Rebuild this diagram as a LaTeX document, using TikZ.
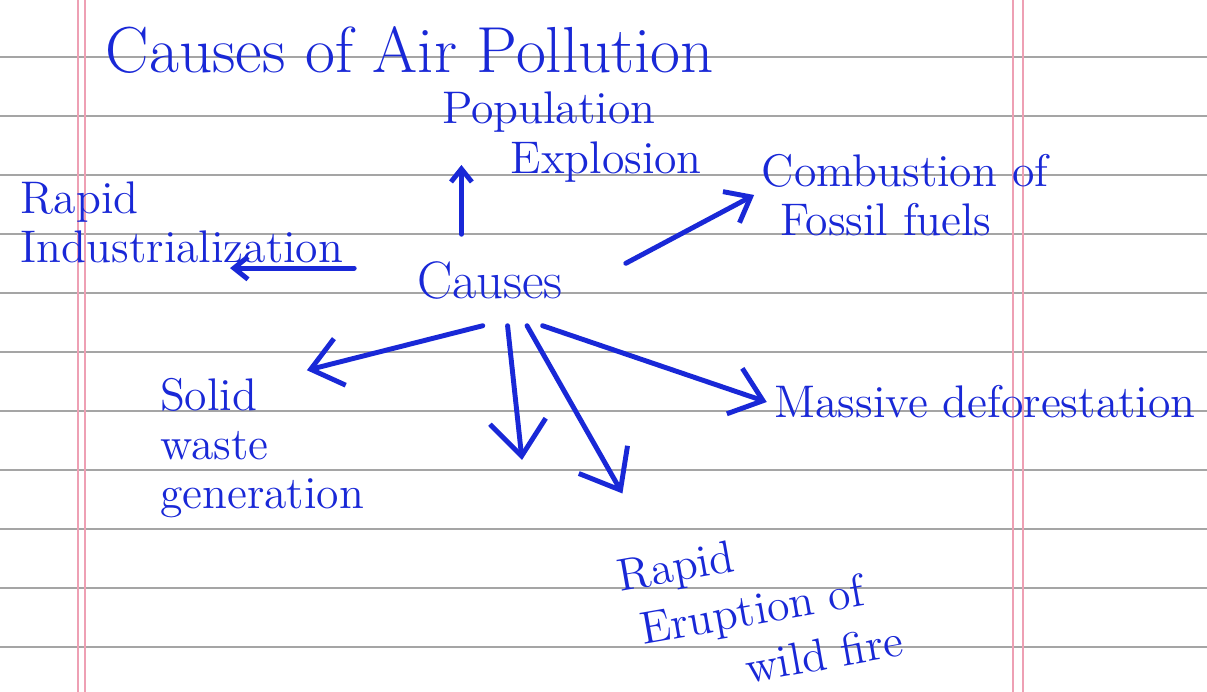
\documentclass[tikz,border=0pt]{standalone}
\usepackage{tikz}
\usetikzlibrary{arrows.meta,positioning}
\definecolor{penblue}{RGB}{25,40,215}
\definecolor{ruleline}{RGB}{165,165,165}
\definecolor{marginline}{RGB}{238,160,180}

\begin{document}
\begin{tikzpicture}[x=0.01cm,y=-0.01cm,
  txt/.style={text=penblue,font=\fontsize{13}{14}\selectfont,inner sep=2pt},
  head/.style={txt,font=\fontsize{18.5}{20}\selectfont},
  hub/.style={txt,font=\fontsize{15}{17}\selectfont,minimum width=2.7cm,minimum height=0.9cm},
  pen/.style={draw=penblue,line width=1.4pt,line cap=round,line join=round},
  arr/.style={pen,-{Straight Barb[length=#1,width'=0pt 1.6]}},
  arr/.default=2mm]
\useasboundingbox (0,0) rectangle (1207,692);
% paper
\fill[white] (0,0) rectangle (1207,692);
\foreach \y in {-2,57,...,647}
  \draw[ruleline,line width=0.7pt] (0,\y) -- (1207,\y);
\foreach \x in {78,85,1013,1023}
  \draw[marginline,line width=0.6pt] (\x,0) -- (\x,692);

\node[head] (title) at (410,50) {Causes of Air Pollution};
\node[hub] (causes) at (490,280) {Causes};
\node[txt,align=left] (pop) at (572,137) {Population\\\hspace*{1.5em}Explosion};
\node[txt,align=left] (comb) at (905,195) {Combustion of\\\hspace*{0.4em}Fossil fuels};
\node[txt,align=left] (ind) at (182,222) {Rapid\\Industrialization};
\node[txt,align=left] (solid) at (262,448) {Solid\\waste\\generation};
\node[txt] (massive) at (985,402) {Massive deforestation};
\node[txt,align=left,rotate=10,font=\fontsize{13}{16}\selectfont] (fire) at (760,608) {Rapid\\\hspace*{0.3em}Eruption of\\\hspace*{2.4em}wild fire};
\coordinate (drop) at (522,460);

\draw[arr=1.3mm,shorten >=0.28cm] (causes.122) -- (causes.122 |- pop.west);
\draw[arr=2.2mm] (causes.7) -- (comb.west);
\draw[arr=1.4mm,shorten >=0.48cm] (causes.175) -- (causes.175 -| ind.center);
\draw[arr=3mm] (causes.261) -- (solid.60);
\draw[arr=3.5mm] (causes.291) -- (drop);
\draw[arr=3.5mm,shorten >=0.6cm] (causes.309) -- (fire.140);
\draw[arr=3mm] (causes.319) -- (massive.west);
\end{tikzpicture}
\end{document}
